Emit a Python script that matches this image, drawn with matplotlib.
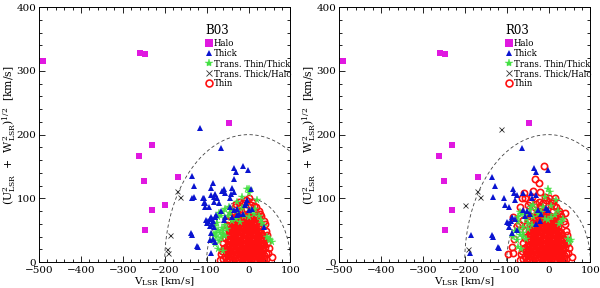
import numpy as np
import matplotlib
matplotlib.use('Agg')
import matplotlib.pyplot as plt

plt.rcParams['font.family'] = ['DejaVu Serif']
plt.rcParams['mathtext.fontset'] = 'dejavuserif'

# ---- data: (V_LSR, sqrt(U^2+W^2)) in km/s ----
halo_b03 = [(-490, 316), (-260, 328), (-247, 327), (-231, 183), (-261, 167), (-250, 128),
            (-169, 133), (-200, 90), (-231, 82), (-247, 51), (-46, 219)]
halo_r03 = [(-490, 316), (-260, 328), (-247, 327), (-231, 183), (-261, 167), (-250, 128),
            (-169, 133), (-231, 82), (-247, 51), (-46, 219)]

cross_b03 = [(-170, 111), (-163, 102), (-188, 43), (-195, 21), (-191, 14)]
cross_r03 = [(-114, 209), (-170, 111), (-163, 102), (-199, 90), (-191, 21)]

thick_b03 = [(-115, 210), (-66, 179), (-13, 151), (-35, 148), (-2, 144), (-29, 142), (-34, 130),
             (-135, 135), (-130, 119), (-134, 101), (-85, 124), (-89, 117), (-79, 107), (-82, 102),
             (-75, 101), (-64, 111), (-59, 115), (-57, 109), (-39, 117), (-35, 110), (-42, 107),
             (-109, 101), (-106, 92), (-95, 87), (-43, 100), (6, 114), (-103, 87), (-71, 92),
             (-101, 66), (-97, 64), (-93, 68), (-90, 70), (-87, 67), (-84, 65), (-80, 70), (-77, 74),
             (-87, 60), (-92, 56), (-99, 62), (-83, 55), (-90, 45), (-85, 37), (-79, 32), (-91, 34),
             (-137, 45), (-134, 42), (-121, 24), (-123, 26), (-90, 15), (38, 55),
             (-43, 87), (-35, 82), (-27, 84), (-23, 76), (-8, 89), (0, 82), (8, 84), (-12, 76),
             (-55, 71), (-59, 66), (-65, 80), (-39, 71), (-27, 74), (-3, 97), (-7, 92), (-131, 102),
             (-107, 100), (-103, 92), (-90, 105), (-83, 95)]
thick_r03 = [(-64, 179), (-35, 148), (-29, 141), (-1, 144), (-134, 134), (-128, 119), (-132, 102),
             (-107, 101), (-103, 90), (-94, 86), (-84, 115), (-82, 108), (-76, 105), (-80, 98),
             (-62, 108), (-41, 108), (-29, 105), (-40, 101), (-62, 81), (-52, 80), (-56, 73),
             (-44, 76), (-100, 63), (-94, 62), (-90, 65), (-94, 55), (-76, 50), (-185, 43),
             (-188, 14), (-136, 43), (-132, 40), (-120, 24), (-118, 22), (-5, 85), (-1, 81),
             (-25, 81), (-17, 76), (-21, 65), (-29, 60), (-86, 70), (-80, 68), (-88, 45)]

green_b03 = [(-4, 114), (0, 108), (2, 115), (20, 97), (-15, 102), (-27, 95), (-47, 87), (-55, 83),
             (-60, 79), (-70, 77), (-65, 72), (-72, 70), (-50, 72), (-45, 77), (-36, 80), (-25, 80),
             (-15, 85), (-5, 88), (5, 80), (12, 76), (16, 83), (25, 72), (30, 66), (33, 62), (38, 57),
             (-75, 62), (-80, 56), (-73, 51), (-68, 46), (-62, 43), (-56, 41), (-78, 40), (-84, 34),
             (-73, 21), (-66, 38), (-60, 48), (48, 37), (52, 34), (56, 31), (45, 40), (-40, 65),
             (-30, 68), (-20, 63), (-10, 72), (-56, 58), (-64, 54), (-52, 52), (0, 70), (-77, 46),
             (-82, 44), (-70, 33), (-60, 18), (-79, 28)]
green_r03 = [(-1, 115), (3, 110), (-9, 102), (19, 97), (-37, 89), (-41, 87), (-45, 82), (-29, 82),
             (-25, 76), (-17, 79), (-68, 79), (-65, 76), (-72, 71), (-57, 74), (-53, 68), (-9, 68),
             (-1, 66), (7, 71), (15, 74), (35, 68), (31, 63), (-80, 48), (-69, 42), (-61, 40),
             (-53, 37), (-72, 24), (-66, 20), (47, 37), (53, 34), (51, 31), (-73, 63), (-71, 50),
             (-76, 34), (-60, 55), (-48, 62), (-36, 70), (-14, 86), (5, 88), (22, 80), (-62, 46),
             (-50, 52), (-40, 58), (25, 60), (-84, 40)]

# dense thin-disk cloud, same stars in both panels
thin_core = [
    (-52, 2), (-44, 3), (-37, 1), (-30, 2), (-22, 3), (-15, 1), (-8, 2), (-1, 3), (6, 1), (13, 2), (20, 3), (27, 1), (34, 2),
    (-48, 6), (-40, 5), (-33, 7), (-26, 5), (-19, 6), (-12, 7), (-5, 5), (2, 6), (9, 7), (16, 5), (24, 6), (31, 7), (38, 5),
    (-55, 9), (-45, 10), (-36, 9), (-29, 11), (-21, 9), (-14, 10), (-6, 11), (0, 9), (8, 10), (15, 11), (22, 9), (29, 10), (36, 11),
    (-50, 13), (-42, 14), (-34, 13), (-27, 15), (-18, 13), (-11, 14), (-3, 15), (4, 13), (11, 14), (18, 15), (26, 13), (33, 14), (41, 15),
    (-53, 17), (-46, 18), (-38, 17), (-30, 19), (-23, 17), (-16, 18), (-9, 19), (-2, 17), (5, 18), (13, 19), (20, 17), (28, 18), (35, 19),
    (-49, 21), (-41, 22), (-33, 21), (-25, 23), (-18, 21), (-10, 22), (-3, 23), (3, 21), (10, 22), (17, 23), (25, 21), (32, 22), (39, 23),
    (-52, 25), (-44, 26), (-36, 25), (-28, 27), (-21, 25), (-13, 26), (-6, 27), (1, 25), (8, 26), (15, 27), (22, 25), (30, 26), (37, 27),
    (-47, 29), (-40, 30), (-32, 29), (-24, 31), (-16, 29), (-9, 30), (-2, 31), (5, 29), (12, 30), (19, 31), (27, 29), (34, 30),
    (-50, 33), (-43, 34), (-35, 33), (-27, 35), (-20, 33), (-12, 34), (-5, 35), (2, 33), (9, 34), (16, 35), (23, 33), (31, 34), (38, 35),
    (-46, 37), (-38, 38), (-31, 37), (-23, 39), (-15, 37), (-8, 38), (-1, 39), (6, 37), (13, 38), (20, 39), (28, 37), (35, 38),
    (-48, 41), (-41, 42), (-33, 41), (-26, 43), (-18, 41), (-11, 42), (-4, 43), (3, 41), (10, 42), (17, 43), (24, 41), (31, 42),
    (-44, 45), (-36, 46), (-29, 45), (-21, 47), (-14, 45), (-6, 46), (1, 47), (8, 45), (15, 46), (22, 47), (29, 45),
    (-46, 49), (-39, 50), (-31, 49), (-24, 51), (-16, 49), (-9, 50), (-2, 51), (5, 49), (12, 50), (19, 51), (26, 49),
    (-41, 53), (-34, 54), (-27, 53), (-19, 55), (-12, 53), (-5, 54), (2, 55), (9, 53), (16, 54), (23, 55),
    (-43, 57), (-36, 58), (-28, 57), (-21, 59), (-14, 57), (-7, 58), (0, 59), (7, 57), (14, 58), (21, 59),
    (-38, 61), (-31, 62), (-24, 61), (-17, 63), (-10, 61), (-3, 62), (4, 63), (11, 61), (18, 62),
    (-35, 65), (-28, 66), (-20, 65), (-13, 67), (-6, 65), (1, 66), (8, 67), (15, 65),
    (-30, 69), (-23, 70), (-16, 69), (-9, 71), (-2, 69), (5, 70), (12, 71),
    (-24, 73), (-17, 74), (-10, 73), (-3, 75), (4, 73),
]
thin_fringe_b03 = [(-60, 5), (-65, 12), (-58, 22), (-62, 30), (-57, 38), (-55, 48), (-52, 58), (-48, 66),
                   (-45, 72), (-40, 78), (-33, 86), (-30, 91), (-22, 95), (-20, 88), (-12, 92), (-6, 97),
                   (2, 100), (8, 95), (12, 88), (18, 86), (24, 80), (28, 76), (25, 68), (30, 73), (36, 64),
                   (40, 59), (42, 48), (45, 43), (44, 30), (48, 22), (46, 14), (55, 8), (42, 5), (-68, 4),
                   (-63, 18), (-18, 80), (-8, 82), (10, 80), (20, 74), (-28, 78), (6, 90)]
thin_fringe_r03 = thin_fringe_b03 + [(-10, 150), (-33, 130), (-22, 124), (-36, 112), (-59, 109),
                                     (-9, 102), (-64, 100), (-84, 70), (-96, 13), (-85, 14),
                                     (-88, 24), (-83, 36), (-70, 60), (-62, 66), (-75, 56),
                                     (-45, 95), (-50, 90), (-20, 110), (15, 100), (39, 77),
                                     (-68, 86), (-40, 102), (10, 95), (-55, 100)]

toomre_radii = [100, 200]

panels = [
    ('B03', halo_b03, thick_b03, green_b03, cross_b03, thin_fringe_b03),
    ('R03', halo_r03, thick_r03, green_r03, cross_r03, thin_fringe_r03),
]


def xy(points):
    arr = np.array(points, dtype=float)
    return arr[:, 0], arr[:, 1]


fig = plt.figure(figsize=(6.0, 2.88), dpi=100)
lefts = [0.065, 0.565]

for left, (name, halo, thick, green, cross, fringe) in zip(lefts, panels):
    ax = fig.add_axes([left, 0.090, 0.419, 0.885])

    theta = np.linspace(0, np.pi, 300)
    for r in toomre_radii:
        ax.plot(r * np.cos(theta), r * np.sin(theta), color='0.25', lw=0.6,
                dashes=(4, 3), zorder=1)

    tv, ty = xy(thin_core + fringe)
    ax.plot(tv, ty, 'o', mfc='none', mec='#ff1010', ms=4.5, mew=1.2, zorder=2,
            label='Thin')
    gv, gy = xy(green)
    ax.plot(gv, gy, '*', color='#44e044', ms=5.5, mew=0.3, zorder=3,
            label='Trans. Thin/Thick')
    bv, by = xy(thick)
    ax.plot(bv, by, '^', color='#0a14d0', ms=4.4, mew=0, zorder=4, label='Thick')
    cv, cy = xy(cross)
    ax.plot(cv, cy, 'x', color='0.2', ms=3.6, mew=0.6, zorder=5,
            label='Trans. Thick/Halo')
    hv, hy = xy(halo)
    ax.plot(hv, hy, 's', color='#e018e0', ms=4.6, mew=0, zorder=6, label='Halo')

    handles, labels = ax.get_legend_handles_labels()
    order = ['Halo', 'Thick', 'Trans. Thin/Thick', 'Trans. Thick/Halo', 'Thin']
    hmap = dict(zip(labels, handles))
    leg = ax.legend([hmap[k] for k in order], order, loc='upper left',
                    bbox_to_anchor=(0.665, 0.875), frameon=False, fontsize=6.2,
                    handlelength=0.7, handletextpad=0.2, labelspacing=0.12,
                    borderpad=0, borderaxespad=0, markerscale=1.1)
    ax.text(0.66, 0.91, name, transform=ax.transAxes, fontsize=8.5,
            ha='left', va='center')

    ax.set_xlim(-500, 100)
    ax.set_ylim(0, 400)
    ax.set_xticks(np.arange(-500, 101, 100))
    ax.set_yticks(np.arange(0, 401, 100))
    ax.set_xticks(np.arange(-500, 101, 20), minor=True)
    ax.set_yticks(np.arange(0, 401, 20), minor=True)
    ax.tick_params(which='both', direction='in', top=True, right=True,
                   labelsize=7.5, width=0.6)
    ax.tick_params(axis='x', pad=3)
    ax.tick_params(axis='y', pad=2)
    ax.tick_params(which='major', length=4)
    ax.tick_params(which='minor', length=2)
    for s in ax.spines.values():
        s.set_linewidth(0.7)
    ax.set_xlabel(r'V$_{\mathrm{LSR}}$ [km/s]', fontsize=7.5, labelpad=0)
    ax.set_ylabel(r'(U$^2_{\mathrm{LSR}}$  +  W$^2_{\mathrm{LSR}}$)$^{1/2}$  [km/s]',
                  fontsize=7.8)
    ax.yaxis.set_label_coords(-0.085, 0.5)

fig.savefig('out.png', dpi=100)
